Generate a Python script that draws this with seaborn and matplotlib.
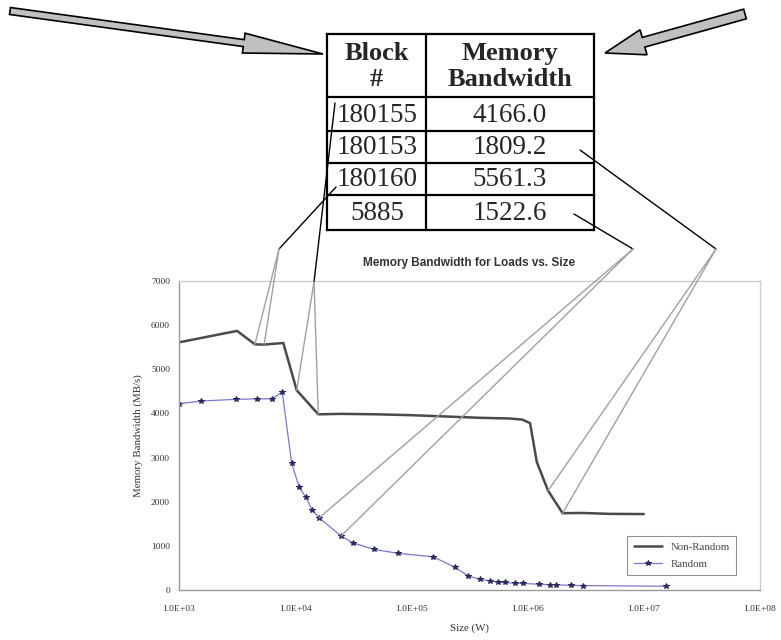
import numpy as np
import pandas as pd
import matplotlib
matplotlib.use("Agg")
import matplotlib.pyplot as plt
import matplotlib.patches as mpatches
from matplotlib.patches import ConnectionPatch
import seaborn as sns

# ---------------- data ----------------
nr_size = [1000, 3160, 4500, 5400, 7900, 10300, 15800, 25000, 50000, 100000,
           200000, 400000, 700000, 900000, 1050000, 1200000, 1500000, 2000000,
           3000000, 5000000, 10000000]
nr_bw = [5610, 5870, 5565, 5560, 5595, 4525, 3980, 3990, 3980, 3960,
         3930, 3900, 3885, 3860, 3780, 2900, 2250, 1740,
         1745, 1725, 1720]

r_size = [1000, 1550, 3080, 4650, 6260, 7740, 9330, 10860, 12400, 14000,
          16100, 24800, 31200, 47600, 77100, 154000, 237000, 309000, 389000,
          474000, 560000, 645000, 777000, 918000, 1260000, 1550000, 1740000,
          2340000, 3020000, 15500000]
r_bw = [4220, 4280, 4320, 4330, 4330, 4480, 2866, 2323, 2097, 1810,
        1636, 1222, 1070, 920, 830, 753, 514, 317, 242,
        210, 174, 170, 152, 150, 130, 120, 118,
        105, 100, 85]

table_blocks = ["180155", "180153", "180160", "5885"]
table_bw = ["4166.0", "1809.2", "5561.3", "1522.6"]
table_header = ["Block\n#", "Memory\nBandwidth"]

x_ticks = [1e3, 1e4, 1e5, 1e6, 1e7, 1e8]
x_ticklabels = ["1.0E+03", "1.0E+04", "1.0E+05", "1.0E+06", "1.0E+07", "1.0E+08"]
y_ticks = [0, 1000, 2000, 3000, 4000, 5000, 6000, 7000]

df_nr = pd.DataFrame({"size": nr_size, "bw": nr_bw})
df_r = pd.DataFrame({"size": r_size, "bw": r_bw})

# ---------------- figure ----------------
sns.set_style("white")
plt.rcParams["font.family"] = ["Liberation Serif", "DejaVu Serif"]

W, H = 781, 640
fig = plt.figure(figsize=(W / 100, H / 100), dpi=100)

def fx(px):
    return px / W

def fy(py):
    return 1 - py / H

L, R, T, B = 179, 760, 281, 590
ax = fig.add_axes([fx(L), fy(B), fx(R) - fx(L), fy(T) - fy(B)])

sns.lineplot(data=df_nr, x="size", y="bw", ax=ax, color="#4a4a4a",
             linewidth=1.8, label="Non-Random", sort=True)
sns.lineplot(data=df_r, x="size", y="bw", ax=ax, color="#7878cc",
             linewidth=0.9, marker="*", markersize=4,
             markerfacecolor="#2a2a5a", markeredgecolor="#2a2a5a",
             label="Random", sort=True)

ax.set_xscale("log")
ax.set_xlim(1e3, 1e8)
ax.set_ylim(0, 7000)
ax.set_xticks(x_ticks)
ax.set_xticklabels(x_ticklabels)
ax.set_yticks(y_ticks)
ax.set_yticklabels([str(v) for v in y_ticks])
ax.minorticks_off()
ax.tick_params(axis="both", labelsize=6.8, colors="#555555", length=3,
               width=0.8, direction="out")
ax.tick_params(axis="x", pad=8)
for lab in ax.get_xticklabels() + ax.get_yticklabels():
    lab.set_color("#333333")
for s in ["left", "bottom"]:
    ax.spines[s].set_color("#999999")
    ax.spines[s].set_linewidth(1.0)
for s in ["top", "right"]:
    ax.spines[s].set_color("#cccccc")
    ax.spines[s].set_linewidth(1.0)
ax.set_xlabel("Size (W)", fontsize=7.8, color="#333333", labelpad=7)
ax.set_ylabel("Memory Bandwidth (MB/s)", fontsize=7.8, color="#333333",
              labelpad=6)
ax.set_title("Memory Bandwidth for Loads vs. Size", fontsize=8.5,
             fontweight="bold", family=["Liberation Sans", "DejaVu Sans"],
             color="#333333", pad=11)

leg = ax.legend(loc="lower left", bbox_to_anchor=(0.762, 0.03),
                fontsize=7.8, frameon=True, fancybox=False, edgecolor="#777777",
                handlelength=2.6, borderpad=0.6, labelspacing=0.7)
leg.get_frame().set_linewidth(0.8)
for t in leg.get_texts():
    t.set_color("#444444")

# ---------------- overlay (table, arrows, callouts) ----------------
ov = fig.add_axes([0, 0, 1, 1], facecolor="none")
ov.set_xlim(0, W)
ov.set_ylim(H, 0)
ov.axis("off")

# table
tl, tr, tmid = 327, 594, 426
row_y = [34, 97, 131, 163, 195, 230]
lw = 1.6
for yy in row_y:
    ov.plot([tl, tr], [yy, yy], color="black", lw=lw, solid_capstyle="projecting")
for xx in [tl, tmid, tr]:
    ov.plot([xx, xx], [row_y[0], row_y[-1]], color="black", lw=lw,
            solid_capstyle="projecting")

fs = 19.5
ov.text((tl + tmid) / 2, (row_y[0] + row_y[1]) / 2 + 1, table_header[0],
        ha="center", va="center", fontsize=19, fontweight="bold",
        linespacing=1.22)
ov.text((tmid + tr) / 2, (row_y[0] + row_y[1]) / 2 + 1, table_header[1],
        ha="center", va="center", fontsize=19, fontweight="bold",
        linespacing=1.22)
for i, (b, v) in enumerate(zip(table_blocks, table_bw)):
    yc = (row_y[i + 1] + row_y[i + 2]) / 2 + 1
    ov.text((tl + tmid) / 2 + 1, yc, b, ha="center", va="center", fontsize=fs)
    ov.text((tmid + tr) / 2, yc, v, ha="center", va="center", fontsize=fs)

# big gray arrows
a1 = mpatches.FancyArrow(10, 11, 313, 43, width=7, head_width=20,
                         head_length=80, length_includes_head=True,
                         fc="#c0c0c0", ec="black", lw=1.2)
ov.add_patch(a1)
a2 = mpatches.FancyArrow(745, 14, -140, 39, width=10, head_width=26,
                         head_length=40, length_includes_head=True,
                         fc="#c0c0c0", ec="black", lw=1.2)
ov.add_patch(a2)

# callouts: black segment from table to apex, gray wedge to data points
callouts = [
    ((336, 187), (279, 249), [(4500, 5565), (5400, 5560)]),
    ((335, 103), (314, 282), [(10300, 4525), (15800, 3980)]),
    ((580, 150), (716, 249), [(1500000, 2250), (2000000, 1740)]),
    ((574, 214), (633, 249), [(16100, 1636), (24800, 1222)]),
]
for start, apex, pts in callouts:
    ov.plot([start[0], apex[0]], [start[1], apex[1]], color="black", lw=1.0)
    for p in pts:
        con = ConnectionPatch(xyA=apex, coordsA=ov.transData,
                              xyB=p, coordsB=ax.transData,
                              color="#a0a0a0", lw=1.0)
        fig.add_artist(con)

fig.savefig("out.png", dpi=100)
